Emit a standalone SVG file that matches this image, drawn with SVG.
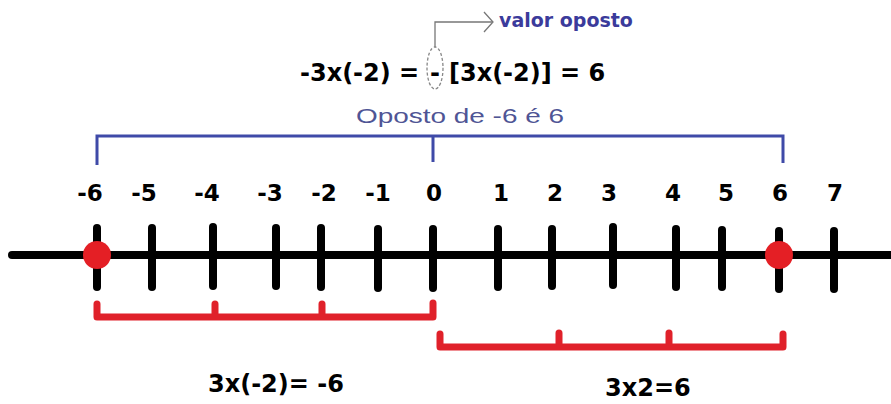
<svg xmlns="http://www.w3.org/2000/svg" width="891" height="404" viewBox="0 0 891 404">
<style>
.b{font-family:"DejaVu Sans","Liberation Sans",sans-serif;font-weight:bold;fill:#000}
.num{font-size:23px;text-anchor:middle}
.eq{font-size:24px}
.tick{stroke:#000;stroke-width:8;stroke-linecap:round}
.red{stroke:#e0212a;stroke-width:7;stroke-linecap:round;stroke-linejoin:round;fill:none}
.blue{stroke:#3f4aa8;stroke-width:3;fill:none}
</style>
<rect width="891" height="404" fill="#fff"/>
<g id="equation">
<text class="b eq" x="300" y="81">-3x(-2) =</text>
<text class="b eq" x="435" y="81" text-anchor="middle">-</text>
<text class="b eq" x="449" y="81">[3x(-2)] = 6</text>
<ellipse cx="435" cy="68" rx="8" ry="21" fill="none" stroke="#888" stroke-width="1.3" stroke-dasharray="3 2"/>
</g>
<g id="valor-oposto">
<text x="499" y="27" font-family="DejaVu Sans, sans-serif" font-weight="bold" font-size="19" fill="#3b3b9b">valor oposto</text>
</g>
<g id="oposto-label">
<text x="356" y="123" font-family="Liberation Sans, sans-serif" font-size="21" fill="#4f5595" textLength="208" lengthAdjust="spacingAndGlyphs">Oposto de -6 é 6</text>
</g>
<g id="number-line">
<line x1="12" y1="255" x2="891" y2="255" class="tick" stroke-width="9"/>
<line class="tick" x1="97" y1="228" x2="97" y2="287"/>
<line class="tick" x1="152" y1="228" x2="152" y2="287"/>
<line class="tick" x1="213" y1="227" x2="213" y2="286"/>
<line class="tick" x1="276" y1="228" x2="276" y2="286"/>
<line class="tick" x1="321" y1="228" x2="321" y2="287"/>
<line class="tick" x1="378" y1="229" x2="378" y2="288"/>
<line class="tick" x1="433" y1="229" x2="433" y2="288"/>
<line class="tick" x1="498" y1="229" x2="498" y2="287"/>
<line class="tick" x1="552" y1="229" x2="552" y2="286"/>
<line class="tick" x1="613" y1="227" x2="613" y2="285"/>
<line class="tick" x1="676" y1="229" x2="676" y2="287"/>
<line class="tick" x1="722" y1="230" x2="722" y2="287"/>
<line class="tick" x1="779" y1="231" x2="779" y2="289"/>
<line class="tick" x1="834" y1="231" x2="834" y2="289"/>
</g>
<g id="labels">
<text class="b num" x="90" y="201">-6</text>
<text class="b num" x="144" y="201">-5</text>
<text class="b num" x="207" y="201">-4</text>
<text class="b num" x="270" y="201">-3</text>
<text class="b num" x="324" y="201">-2</text>
<text class="b num" x="378" y="201">-1</text>
<text class="b num" x="434" y="201">0</text>
<text class="b num" x="501" y="201">1</text>
<text class="b num" x="555" y="201">2</text>
<text class="b num" x="609" y="201">3</text>
<text class="b num" x="673" y="201">4</text>
<text class="b num" x="726" y="201">5</text>
<text class="b num" x="780" y="201">6</text>
<text class="b num" x="835" y="201">7</text>
</g>
<g id="point-minus6"><circle cx="97" cy="255" r="14" fill="#e41f25"/></g>
<g id="point-6"><circle cx="779" cy="255" r="14" fill="#e41f25"/></g>
<g id="result-left"><text class="b eq" x="208" y="392">3x(-2)= -6</text></g>
<g id="result-right"><text class="b eq" x="605" y="396">3x2=6</text></g>
<g id="connectors">
<path class="blue" d="M97,165 V136 H783 V163 M433,136 V162"/>
<path d="M435,47 V22 H492" fill="none" stroke="#777" stroke-width="1.3"/>
<polyline points="484,12 493,22 484,32" fill="none" stroke="#777" stroke-width="1.3"/>
<path class="red" d="M97,304 V317 H433 V303 M215,304 V317 M322,304 V317"/>
<path class="red" d="M440,334 V347 H783 V334 M559,333 V347 M669,333 V347"/>
</g>
</svg>
